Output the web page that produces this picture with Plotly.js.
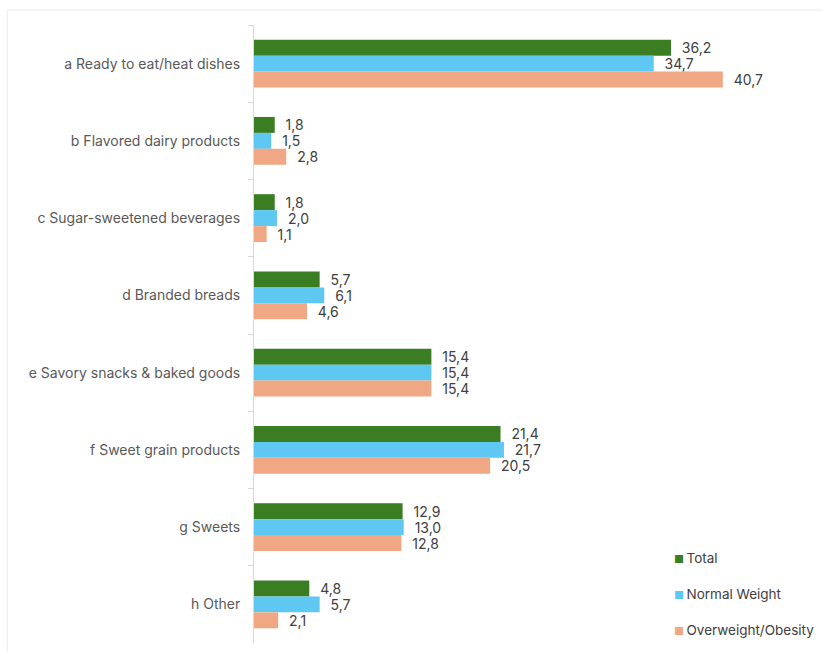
<!DOCTYPE html>
<html><head><meta charset="utf-8">
<script src="https://cdn.plot.ly/plotly-3.0.1.min.js"></script>
<style>html,body{margin:0;padding:0;background:#fff}#chart{width:823px;height:652px}</style>
</head><body><div id="chart"></div>
<script>
const categories = ["a Ready to eat/heat dishes","b Flavored dairy products","c Sugar-sweetened beverages","d Branded breads","e Savory snacks & baked goods","f Sweet grain products","g Sweets","h Other"];
const seriesNames = ["Total","Normal Weight","Overweight/Obesity"];
const totalValues = [36.2,1.8,1.8,5.7,15.4,21.4,12.9,4.8];
const normalValues = [34.7,1.5,2.0,6.1,15.4,21.7,13.0,5.7];
const overweightValues = [40.7,2.8,1.1,4.6,15.4,20.5,12.8,2.1];
const colors = ["#3a7d22","#5ec8f2","#f0a884"];
const FONT = 'Inter, "Open Sans", sans-serif';
const fmt = v => '\u00a0\u00a0' + v.toFixed(1).replace('.', ',');
const all = [totalValues, normalValues, overweightValues];
const traces = all.map((vals,i)=>({
  type:'bar', orientation:'h', name:seriesNames[i],
  y:categories, x:vals, marker:{color:colors[i]},
  text:vals.map(fmt), textposition:'outside', cliponaxis:false, constraintext:'none',
  textfont:{family:FONT, size:14, color:'#404040'},
  showlegend:false, hoverinfo:'x+y'
}));
const legendY = [558, 594, 630];
const annotations = seriesNames.map((n,i)=>({
  xref:'paper', yref:'paper', x:(672-254)/546, y:(643-legendY[i])/618,
  xanchor:'left', yanchor:'middle', showarrow:false, align:'left',
  text:'<span style="color:'+colors[i]+';font-size:11px">■</span>\u2009'+n,
  font:{family:FONT, size:13.5, color:'#404040'}
}));
const layout = {
  width:823, height:652,
  margin:{l:254, r:23, t:25, b:9, autoexpand:false},
  paper_bgcolor:'#fff', plot_bgcolor:'#fff',
  barmode:'group', bargap:0.38, bargroupgap:0,
  showlegend:false,
  xaxis:{range:[0,47.4], visible:false, fixedrange:true},
  yaxis:{type:'category', autorange:'reversed', showline:true, linecolor:'#d9d9d9', linewidth:1,
    ticks:'outside', tickson:'boundaries', ticklen:5, tickcolor:'#d9d9d9', showgrid:false,
    ticklabelstandoff:10,
    tickfont:{family:FONT, size:14, color:'#595959'}},
  annotations:annotations,
  shapes:[{type:'rect', xref:'paper', yref:'paper', x0:-0.452, x1:1.2, y0:-0.2, y1:1.024,
    line:{color:'#ebebeb', width:1}, fillcolor:'rgba(0,0,0,0)', layer:'below'}],
  font:{family:FONT}
};
Plotly.newPlot('chart', traces, layout, {displayModeBar:false, staticPlot:true});
</script></body></html>
